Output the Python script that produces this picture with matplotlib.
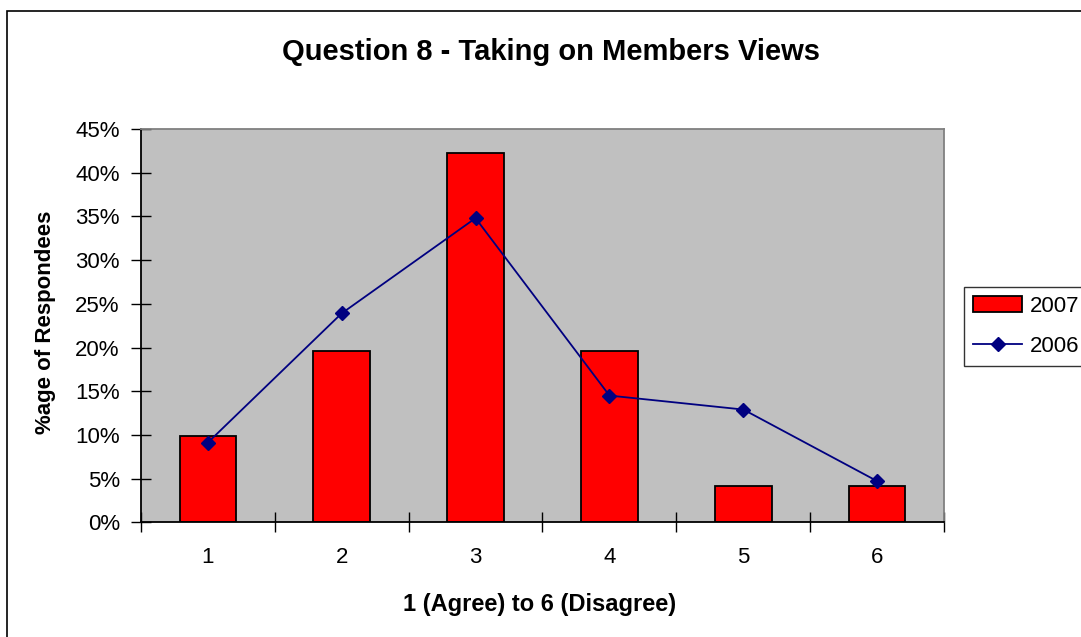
import matplotlib.pyplot as plt
from matplotlib.patches import Rectangle
from matplotlib.ticker import PercentFormatter

plt.rcParams['font.family'] = ['Liberation Sans', 'DejaVu Sans']

categories = ['1', '2', '3', '4', '5', '6']
values_2007 = [9.9, 19.6, 42.2, 19.6, 4.1, 4.1]
values_2006 = [9.1, 23.9, 34.8, 14.5, 12.9, 4.7]

W, H = 1081, 637
fig = plt.figure(figsize=(W / 100, H / 100), dpi=100)
ax = fig.add_axes([140.7 / W, 1 - 522.3 / H, (944.3 - 140.7) / W, (522.3 - 129) / H])

x = list(range(len(categories)))
bars = ax.bar(x, values_2007, width=0.42, color='#ff0000', edgecolor='black', linewidth=1.3,
              label='2007', zorder=2)
line, = ax.plot(x, values_2006, color='#000080', linewidth=1.3, marker='D', markersize=7,
                label='2006', zorder=3)

ax.set_facecolor('#c0c0c0')
ax.set_xlim(-0.5, 5.5)
ax.set_ylim(0, 45)
ax.set_yticks(range(0, 50, 5))
ax.yaxis.set_major_formatter(PercentFormatter(decimals=0))
ax.set_xticks([i + 0.5 for i in range(-1, 6)], minor=False)
ax.set_xticklabels([''] * 7)
ax.set_xticks(x, minor=True)
ax.set_xticklabels(categories, minor=True)
ax.tick_params(axis='x', which='major', direction='inout', length=14, width=1)
ax.tick_params(axis='x', which='minor', length=0, pad=18, labelsize=16)
ax.tick_params(axis='y', direction='inout', length=14, width=1, labelsize=16, pad=8)

for s in ['top', 'right']:
    ax.spines[s].set_color('#808080')
    ax.spines[s].set_linewidth(1.3)
for s in ['left', 'bottom']:
    ax.spines[s].set_color('black')
    ax.spines[s].set_linewidth(1.3)

fig.text(551 / W, 1 - 52 / H, 'Question 8 - Taking on Members Views', ha='center', va='center',
         fontsize=21, fontweight='bold')
fig.text(540 / W, 1 - 604 / H, '1 (Agree) to 6 (Disagree)', ha='center', va='center',
         fontsize=17, fontweight='bold')
fig.text(46 / W, 1 - 322 / H, '%age of Respondees', ha='center', va='center',
         rotation=90, fontsize=16, fontweight='bold')

leg = fig.legend([bars, line], ['2007', '2006'], loc='upper left',
                 bbox_to_anchor=(964 / W, 1 - 286.7 / H), fontsize=16,
                 frameon=True, fancybox=False, edgecolor='black', borderpad=0.42,
                 handlelength=2.2, handletextpad=0.35, labelspacing=0.85, borderaxespad=0)
leg.get_frame().set_linewidth(1)

fig.patches.append(Rectangle((7.3 / W, -0.1), 1.2, 1.1 - 10.7 / H, transform=fig.transFigure,
                             fill=False, edgecolor='black', linewidth=1.2))

fig.savefig('out.png', dpi=100)
